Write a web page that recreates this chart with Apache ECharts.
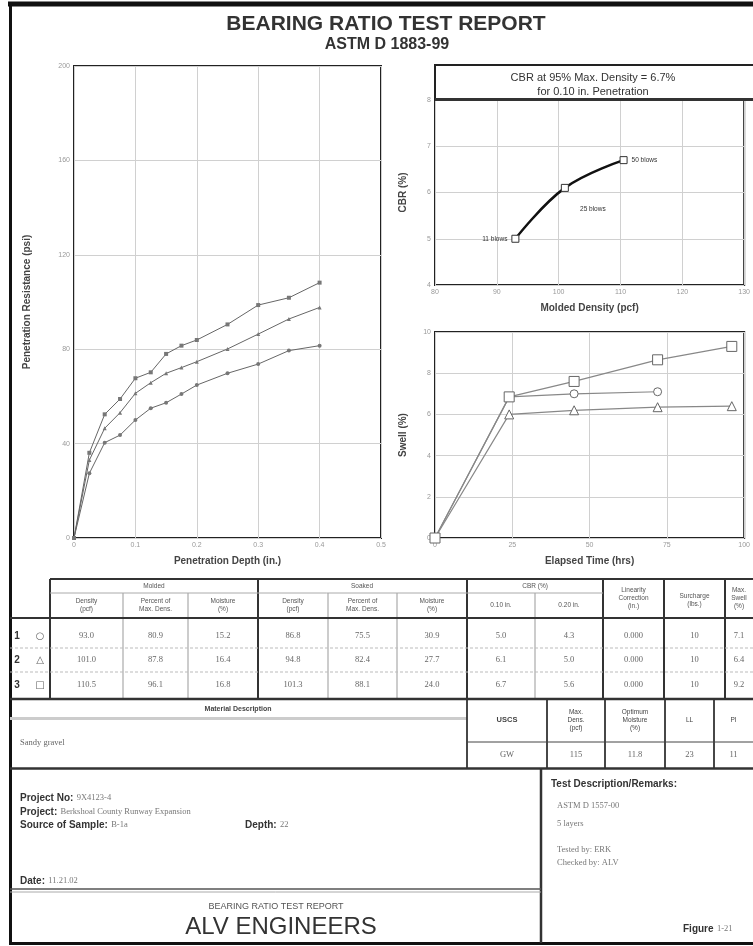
<!DOCTYPE html>
<html>
<head>
<meta charset="utf-8">
<script src="https://cdn.jsdelivr.net/npm/echarts@6/dist/echarts.min.js"></script>
<style>
  html, body { margin: 0; padding: 0; background: #fff; }
  #report { width: 753px; height: 946px; }
</style>
</head>
<body>
<div id="report"></div>
<script>
// penetration test (load vs depth), three specimens
const depthIn = [0, 0.025, 0.05, 0.075, 0.1, 0.125, 0.15, 0.175, 0.2, 0.25, 0.3, 0.35, 0.4];
const load1 = [0, 27.4, 40.4, 43.6, 50, 55, 57.3, 61, 64.8, 69.8, 73.7, 79.4, 81.5];
const load2 = [0, 33, 46.5, 53.1, 61.3, 65.8, 69.8, 72.2, 74.7, 80.1, 86.4, 92.8, 97.7];
const load3 = [0, 36.1, 52.4, 58.9, 67.7, 70.2, 78, 81.5, 83.9, 90.5, 98.7, 101.8, 108.2];

// CBR vs molded density
const moldedDensity = [93.0, 101.0, 110.5];
const cbrAt010 = [5.0, 6.1, 6.7];
const blowLabels = ['11 blows', '25 blows', '50 blows'];

// swell vs elapsed time
const swellHrs = [0, 24, 45, 72, 96];
const swell1 = [0, 6.85, 7.0, 7.1];
const swell2 = [0, 6.0, 6.2, 6.35, 6.4];
const swell3 = [0, 6.85, 7.6, 8.65, 9.3];

// table
const rowMarks = ['○', '△', '□'];
const tableRows = [
    ['93.0', '80.9', '15.2', '86.8', '75.5', '30.9', '5.0', '4.3', '0.000', '10', '7.1'],
    ['101.0', '87.8', '16.4', '94.8', '82.4', '27.7', '6.1', '5.0', '0.000', '10', '6.4'],
    ['110.5', '96.1', '16.8', '101.3', '88.1', '24.0', '6.7', '5.6', '0.000', '10', '9.2']
];
const soilHeaders = ['USCS', 'Max.\nDens.\n(pcf)', 'Optimum\nMoisture\n(%)', 'LL', 'PI'];
const soilValues = ['GW', '115', '11.8', '23', '11'];

const SANS = "'Liberation Sans', Arial, sans-serif";
const SERIF = "'Liberation Serif', 'Times New Roman', serif";

function L (x1, y1, x2, y2, w, c, dash) {
    return { type: 'line', silent: true, z: 10, shape: { x1, y1, x2, y2 },
        style: { stroke: c || '#222', lineWidth: w || 1, lineDash: dash || null } };
}
function T (x, y, text, font, fill, align) {
    return { type: 'text', silent: true, z: 11, x, y,
        style: { text, font, fill: fill || '#333', align: align || 'center', verticalAlign: 'middle', lineHeight: 8 } };
}

const pairs = (xs, ys) => ys.map((v, i) => [xs[i], v]);

const chart = echarts.init(document.getElementById('report'));

const tickLabel = { fontSize: 7, color: '#999', fontFamily: SANS };
const axisName = { fontSize: 10, fontWeight: 'bold', color: '#444', fontFamily: SANS };
const split = { show: true, lineStyle: { color: '#d0d0d0', width: 1 } };

function axis (grid, min, max, interval, name, gap, fmt) {
    return {
        type: 'value', gridIndex: grid, min, max, interval,
        name, nameLocation: 'middle', nameGap: gap, nameTextStyle: axisName,
        axisLine: { show: false }, axisTick: { show: false },
        axisLabel: Object.assign({ margin: 4, formatter: fmt }, tickLabel),
        splitLine: split
    };
}

// ---------- graphic: frame, titles, table, footer ----------
const g = [];
g.push(L(8, 4, 753, 4, 5, '#111'));
g.push(L(10.5, 2, 10.5, 945, 3, '#111'));
g.push(L(9, 943.5, 753, 943.5, 3, '#111'));

g.push(T(386, 24, 'BEARING RATIO TEST REPORT', 'bold 21px ' + SANS, '#333'));
g.push(T(387, 45, 'ASTM D 1883-99', 'bold 16px ' + SANS, '#333'));

// CBR title box
g.push({ type: 'rect', silent: true, z: 10, shape: { x: 435, y: 65, width: 330, height: 35 },
    style: { fill: 'none', stroke: '#222', lineWidth: 2 } });
g.push(L(435, 99.5, 753, 99.5, 3, '#333'));
g.push(T(593, 77.5, 'CBR at 95% Max. Density = 6.7%', '11px ' + SANS, '#333'));
g.push(T(593, 91.5, 'for 0.10 in. Penetration', '11px ' + SANS, '#333'));

// table grid
g.push(L(50, 579, 753, 579, 2, '#333'));
[50, 258, 467, 603, 664, 725].forEach(x => g.push(L(x, 579, x, 699, 2, '#333')));
[123, 188, 328, 397, 535].forEach(x => g.push(L(x, 593, x, 699, 1, '#999')));
g.push(L(50, 593, 603, 593, 1, '#aaa'));
g.push(L(10, 618, 753, 618, 2, '#333'));
g.push(L(10, 648, 753, 648, 1, '#bbb', [3, 2]));
g.push(L(10, 672, 753, 672, 1, '#bbb', [3, 2]));
g.push(L(10, 699, 753, 699, 2.5, '#333'));

const hFont = '6.5px ' + SANS;
g.push(T(154, 586, 'Molded', hFont, '#555'));
g.push(T(362, 586, 'Soaked', hFont, '#555'));
g.push(T(535, 586, 'CBR (%)', hFont, '#555'));
const subHeads = ['Density\n(pcf)', 'Percent of\nMax. Dens.', 'Moisture\n(%)',
    'Density\n(pcf)', 'Percent of\nMax. Dens.', 'Moisture\n(%)', '0.10 in.', '0.20 in.'];
const colX = [86.5, 155.5, 223, 293, 362.5, 432, 501, 569, 633.5, 694.5, 739];
subHeads.forEach((s, i) => g.push(T(colX[i], 605, s, hFont, '#555')));
g.push(T(633.5, 598, 'Linearity\nCorrection\n(in.)', hFont, '#555'));
g.push(T(694.5, 600, 'Surcharge\n(lbs.)', hFont, '#555'));
g.push(T(739, 598, 'Max.\nSwell\n(%)', hFont, '#555'));

const rowY = [636, 660, 685];
tableRows.forEach((row, r) => {
    g.push(T(17, rowY[r], String(r + 1), 'bold 10px ' + SANS, '#333'));
    g.push(T(40, rowY[r], rowMarks[r], '10px DejaVu Sans', '#666'));
    row.forEach((v, c) => g.push(T(colX[c], rowY[r], v, '8.5px ' + SERIF, '#666')));
});

// material description / soil data
g.push(T(238, 709, 'Material Description', 'bold 7px ' + SANS, '#444'));
g.push(L(10, 718.5, 467, 718.5, 3, '#ccc'));
g.push(T(20, 743, 'Sandy gravel', '8.5px ' + SERIF, '#666', 'left'));
[467, 547, 605, 665, 714].forEach(x => g.push(L(x, 699, x, 768, 1.8, '#333')));
g.push(L(467, 742, 753, 742, 1, '#444'));
const soilX = [507, 576, 635, 689.5, 733.5];
soilHeaders.forEach((s, i) => g.push(T(soilX[i], 720, s, (i === 0 ? 'bold 7.5px ' : '6.5px ') + SANS, '#444')));
soilValues.forEach((s, i) => g.push(T(soilX[i], 755, s, '8.5px ' + SERIF, '#666')));
g.push(L(10, 768.5, 753, 768.5, 2.5, '#333'));

// footer
g.push(L(541, 768, 541, 943, 2.5, '#333'));
g.push(L(10, 889, 541, 889, 1.5, '#555'));
g.push(L(10, 892, 541, 892, 1, '#aaa'));
const rich = {
    b: { font: 'bold 10px ' + SANS, fill: '#333' },
    v: { font: '8.5px ' + SERIF, fill: '#777' }
};
function R (x, y, text) {
    return { type: 'text', silent: true, z: 11, x, y,
        style: { text, rich, align: 'left', verticalAlign: 'middle' } };
}
g.push(R(20, 798, '{b|Project No:} {v|9X4123-4}'));
g.push(R(20, 812, '{b|Project:} {v|Berkshoal County Runway Expansion}'));
g.push(R(20, 825, '{b|Source of Sample:} {v|B-1a}'));
g.push(R(245, 825, '{b|Depth:} {v|22}'));
g.push(R(20, 881, '{b|Date:} {v|11.21.02}'));
g.push(T(276, 907, 'BEARING RATIO TEST REPORT', '9px ' + SANS, '#555'));
g.push(T(281, 927, 'ALV ENGINEERS', '24px ' + SANS, '#333'));

g.push(R(551, 784, '{b|Test Description/Remarks:}'));
g.push(T(557, 806, 'ASTM D 1557-00', '8.5px ' + SERIF, '#777', 'left'));
g.push(T(557, 824, '5 layers', '8.5px ' + SERIF, '#777', 'left'));
g.push(T(557, 850, 'Tested by: ERK', '8.5px ' + SERIF, '#777', 'left'));
g.push(T(557, 863, 'Checked by: ALV', '8.5px ' + SERIF, '#777', 'left'));
g.push(R(683, 929, '{b|Figure} {v|1-21}'));

// ---------- series ----------
const penLine = (data, sym) => ({
    type: 'line', xAxisIndex: 0, yAxisIndex: 0, data, symbol: sym, symbolSize: 4,
    showAllSymbol: true, itemStyle: { color: '#777' }, lineStyle: { color: '#666', width: 1 }
});
const swellLine = (data, sym, size) => ({
    type: 'line', xAxisIndex: 2, yAxisIndex: 2, data, symbol: sym, symbolSize: size,
    itemStyle: { color: '#fff', borderColor: '#666', borderWidth: 1 },
    lineStyle: { color: '#888', width: 1.2 }
});
const labelPos = [
    { position: 'left', distance: 4 },
    { position: 'bottom', distance: 14, offset: [28, 0] },
    { position: 'right', distance: 4 }
];

chart.setOption({
    animation: false,
    textStyle: { fontFamily: SANS },
    grid: [
        { left: 74, top: 66, width: 307, height: 472, show: true, borderColor: '#222', borderWidth: 2 },
        { left: 435, top: 100, width: 316, height: 185, show: true, borderColor: '#222', borderWidth: 2 },
        { left: 435, top: 332, width: 316, height: 206, show: true, borderColor: '#222', borderWidth: 2 }
    ],
    xAxis: [
        axis(0, 0, 0.5, 0.1, 'Penetration Depth (in.)', 18, v => (v === 0 ? '0' : v.toFixed(1))),
        axis(1, 80, 130, 10, 'Molded Density (pcf)', 18),
        axis(2, 0, 100, 25, 'Elapsed Time (hrs)', 18)
    ],
    yAxis: [
        axis(0, 0, 200, 40, 'Penetration Resistance (psi)', 42),
        axis(1, 4, 8, 1, 'CBR (%)', 27),
        axis(2, 0, 10, 2, 'Swell (%)', 27)
    ],
    series: [
        penLine(pairs(depthIn, load1), 'circle'),
        penLine(pairs(depthIn, load2), 'triangle'),
        penLine(pairs(depthIn, load3), 'rect'),
        {
            type: 'line', xAxisIndex: 1, yAxisIndex: 1, smooth: 0.4,
            data: moldedDensity.map((d, i) => ({
                value: [d, cbrAt010[i]],
                label: Object.assign({ show: true, formatter: blowLabels[i],
                    fontSize: 6.5, color: '#333' }, labelPos[i])
            })),
            symbol: 'rect', symbolSize: 7,
            itemStyle: { color: '#fff', borderColor: '#333', borderWidth: 1 },
            lineStyle: { color: '#111', width: 2.5 }
        },
        swellLine(pairs(swellHrs, swell1), 'circle', 8),
        swellLine(pairs(swellHrs, swell2), 'triangle', 9),
        swellLine(pairs(swellHrs, swell3), 'rect', 10)
    ],
    graphic: g
});
</script>
</body>
</html>
